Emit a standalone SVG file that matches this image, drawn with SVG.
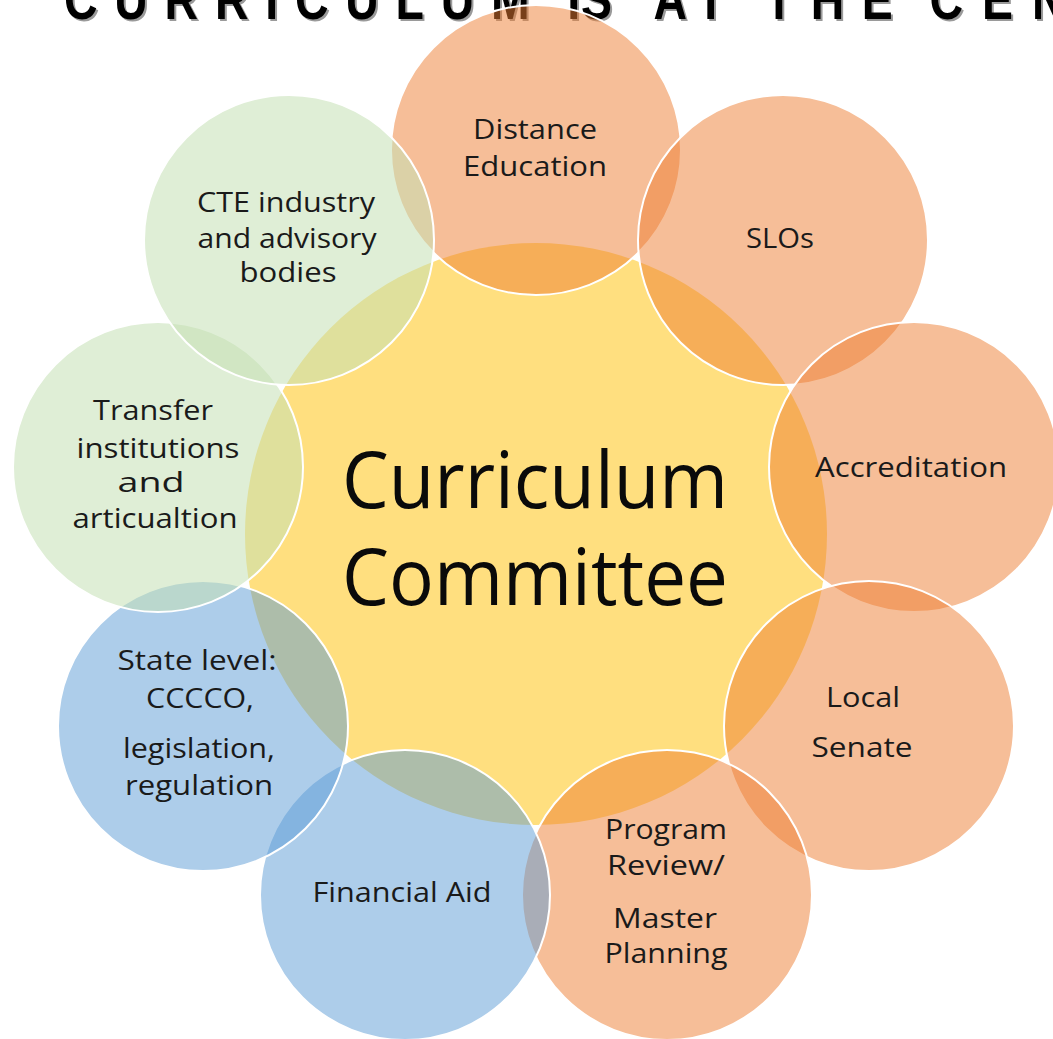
<svg xmlns="http://www.w3.org/2000/svg" width="1053" height="1039" viewBox="0 0 1053 1039">
  <style>
    .hub { fill: #FFDF7F; }
    .orange { fill: #ED7D31; fill-opacity: 0.5; stroke: #FFFFFF; stroke-width: 2; }
    .blue { fill: #5B9BD5; fill-opacity: 0.5; stroke: #FFFFFF; stroke-width: 2; }
    .green { fill: #C5E0B4; fill-opacity: 0.55; stroke: #FFFFFF; stroke-width: 2; }
    .lbl { font-family: "Open Sans", "Noto Sans", sans-serif; font-size: 27px; fill: #1a1a1a; text-anchor: middle; }
    .big { font-family: "Open Sans", "Noto Sans", sans-serif; font-size: 78px; fill: #0a0a0a; text-anchor: middle; }
    .title { font-family: "Liberation Sans", Arial, sans-serif; font-size: 58px; font-weight: bold; }
  </style>

  <rect width="1053" height="1039" fill="#FFFFFF"/>

  <!-- heading, cut by the top edge (glyphs squeezed to 80% width) -->
  <g id="title">
    <g transform="translate(2,2) scale(0.8,1)" class="title" fill="#9a9a9a">
      <text x="80" y="19" textLength="582" lengthAdjust="spacing">CURRICULUM</text>
      <text x="709" y="19" textLength="56" lengthAdjust="spacing">IS</text>
      <text x="817" y="19" textLength="89" lengthAdjust="spacing">AT</text>
      <text x="956" y="19" textLength="160" lengthAdjust="spacing">THE</text>
      <text x="1162" y="19" textLength="170" lengthAdjust="spacing">CEN</text>
    </g>
    <g transform="scale(0.8,1)" class="title" fill="#000000">
      <text x="80" y="19" textLength="582" lengthAdjust="spacing">CURRICULUM</text>
      <text x="709" y="19" textLength="56" lengthAdjust="spacing">IS</text>
      <text x="817" y="19" textLength="89" lengthAdjust="spacing">AT</text>
      <text x="956" y="19" textLength="160" lengthAdjust="spacing">THE</text>
      <text x="1162" y="19" textLength="170" lengthAdjust="spacing">CEN</text>
    </g>
  </g>

  <!-- central circle -->
  <g id="curriculum-committee">
    <circle class="hub" cx="536" cy="534" r="291"/>
    <text class="big" x="535" y="508" textLength="386" lengthAdjust="spacingAndGlyphs">Curriculum</text>
    <text class="big" x="535" y="605" textLength="386" lengthAdjust="spacingAndGlyphs">Committee</text>
  </g>

  <!-- satellites, clockwise from the top -->
  <g id="distance-education">
    <circle class="orange" cx="536" cy="150" r="145"/>
    <text class="lbl" x="535" y="139" textLength="124" lengthAdjust="spacingAndGlyphs">Distance</text>
    <text class="lbl" x="535" y="176" textLength="144" lengthAdjust="spacingAndGlyphs">Education</text>
  </g>

  <g id="slos">
    <circle class="orange" cx="783" cy="240" r="145"/>
    <text class="lbl" x="780" y="248" textLength="68" lengthAdjust="spacingAndGlyphs">SLOs</text>
  </g>

  <g id="accreditation">
    <circle class="orange" cx="914" cy="467" r="145"/>
    <text class="lbl" x="911" y="477" textLength="192" lengthAdjust="spacingAndGlyphs">Accreditation</text>
  </g>

  <g id="local-senate">
    <circle class="orange" cx="869" cy="726" r="145"/>
    <text class="lbl" x="863" y="707" textLength="74" lengthAdjust="spacingAndGlyphs">Local</text>
    <text class="lbl" x="862" y="757" textLength="101" lengthAdjust="spacingAndGlyphs">Senate</text>
  </g>

  <g id="program-review">
    <circle class="orange" cx="667" cy="895" r="145"/>
    <text class="lbl" x="666" y="839" textLength="122" lengthAdjust="spacingAndGlyphs">Program</text>
    <text class="lbl" x="666" y="875" textLength="118" lengthAdjust="spacingAndGlyphs">Review/</text>
    <text class="lbl" x="665" y="928" textLength="104" lengthAdjust="spacingAndGlyphs">Master</text>
    <text class="lbl" x="666" y="963" textLength="123" lengthAdjust="spacingAndGlyphs">Planning</text>
  </g>

  <g id="financial-aid">
    <circle class="blue" cx="405" cy="895" r="145"/>
    <text class="lbl" x="402" y="902" textLength="179" lengthAdjust="spacingAndGlyphs">Financial Aid</text>
  </g>

  <g id="state-level">
    <circle class="blue" cx="203" cy="726" r="145"/>
    <text class="lbl" x="197" y="670" textLength="159" lengthAdjust="spacingAndGlyphs">State level:</text>
    <text class="lbl" x="200" y="708" textLength="108" lengthAdjust="spacingAndGlyphs">CCCCO,</text>
    <text class="lbl" x="199" y="758" textLength="152" lengthAdjust="spacingAndGlyphs">legislation,</text>
    <text class="lbl" x="199" y="795" textLength="148" lengthAdjust="spacingAndGlyphs">regulation</text>
  </g>

  <g id="transfer">
    <circle class="green" cx="158" cy="467" r="145"/>
    <text class="lbl" x="153" y="420" textLength="120" lengthAdjust="spacingAndGlyphs">Transfer</text>
    <text class="lbl" x="158" y="458" textLength="163" lengthAdjust="spacingAndGlyphs">institutions</text>
    <text class="lbl" x="151" y="492" textLength="67" lengthAdjust="spacingAndGlyphs">and</text>
    <text class="lbl" x="155" y="528" textLength="165" lengthAdjust="spacingAndGlyphs">articualtion</text>
  </g>

  <g id="cte-industry">
    <circle class="green" cx="289" cy="240" r="145"/>
    <text class="lbl" x="286" y="212" textLength="178" lengthAdjust="spacingAndGlyphs">CTE industry</text>
    <text class="lbl" x="287" y="248" textLength="179" lengthAdjust="spacingAndGlyphs">and advisory</text>
    <text class="lbl" x="288" y="282" textLength="97" lengthAdjust="spacingAndGlyphs">bodies</text>
  </g>
</svg>
